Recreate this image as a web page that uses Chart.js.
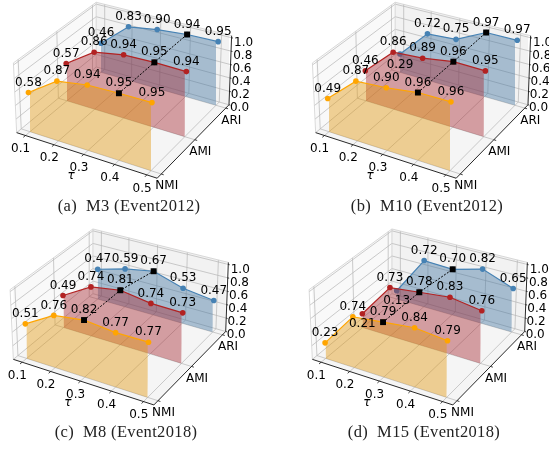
<!DOCTYPE html>
<html lang="en">
<head>
    <meta charset="UTF-8">
    <title>Clustering metrics vs tau</title>
    <script src="https://cdn.jsdelivr.net/npm/chart.js@4.4.1/dist/chart.umd.min.js"></script>
    <style>
        html, body { margin: 0; padding: 0; background: #fff; }
        #page { position: relative; width: 549px; height: 449px; overflow: hidden; }
        canvas { position: absolute; }
        .caption { position: absolute; transform: translate(-50%, -50%); white-space: pre; font-family: 'Liberation Serif', serif; font-size: 16.5px; letter-spacing: 0.35px; color: #222; }
    </style>
</head>
<body>
    <div id="page"></div>
    <script>
        // values
        const tauValues = [0.1, 0.2, 0.3, 0.4, 0.5];
        const metricNames = ['NMI', 'AMI', 'ARI'];
        const zTicks = [0, 0.2, 0.4, 0.6, 0.8, 1.0];

        const m3Nmi = [0.58, 0.87, 0.94, 0.95, 0.95];
        const m3Ami = [0.57, 0.86, 0.94, 0.95, 0.94];
        const m3Ari = [0.46, 0.83, 0.90, 0.94, 0.95];

        const m10Nmi = [0.49, 0.87, 0.90, 0.96, 0.96];
        const m10Ami = [0.46, 0.86, 0.89, 0.96, 0.95];
        const m10Ari = [0.29, 0.72, 0.75, 0.97, 0.97];

        const m8Nmi = [0.51, 0.76, 0.82, 0.77, 0.77];
        const m8Ami = [0.49, 0.74, 0.81, 0.74, 0.73];
        const m8Ari = [0.47, 0.59, 0.67, 0.53, 0.47];

        const m15Nmi = [0.23, 0.74, 0.79, 0.84, 0.79];
        const m15Ami = [0.21, 0.73, 0.78, 0.83, 0.76];
        const m15Ari = [0.13, 0.72, 0.70, 0.82, 0.65];

        // below: labels that sit under their point, as [metric, tau index]
        const panels = [
            { caption: '(a)  M3 (Event2012)', series: [m3Nmi, m3Ami, m3Ari], best: 3, below: [], left: 0, top: 0, dx: 0, dy: 0, capX: 129, capY: 206 },
            { caption: '(b)  M10 (Event2012)', series: [m10Nmi, m10Ami, m10Ari], best: 3, below: ['2,0'], left: 275, top: 0, dx: 24, dy: 0, capX: 427, capY: 206 },
            { caption: '(c)  M8 (Event2018)', series: [m8Nmi, m8Ami, m8Ari], best: 2, below: [], left: 0, top: 225, dx: -3.3, dy: 1.7, capX: 126, capY: 432 },
            { caption: '(d)  M15 (Event2018)', series: [m15Nmi, m15Ami, m15Ari], best: 2, below: ['1,0', '2,0'], left: 275, top: 225, dx: 20.7, dy: 1.7, capX: 424, capY: 432 }
        ];

        // camera: where the data box lands in a panel (tau .1/.5 x NMI/ARI), floor and z=1 plane
        const floorCorners = [[30, 131.7], [151, 170.7], [101, 72.3], [216, 105.3]];
        const roofCorners = [[27.3, 64], [152, 99], [101, 9], [218.3, 38.3]];
        const sMin = -0.0725, sMax = 1.085, wMin = -0.064, wMax = 1.05, zMax = 1.03;

        const metricColors = ['#ffa500', '#b22222', '#4682b4'];
        const wallColors = ['rgba(226,150,10,0.42)', 'rgba(165,35,45,0.42)', 'rgba(62,115,160,0.42)'];
        const labelFont = "12px 'DejaVu Sans'";

        // foreshortening along the two floor directions
        const warp = (t, r) => t / (t + (1 - t) * r);
        const tauPos = tau => warp((tau - 0.1) / 0.4, 1.083);
        const metricPos = i => warp(i / 2, 0.923);

        function bilinear(c, s, w, k) {
            return (1 - s) * (1 - w) * c[0][k] + s * (1 - w) * c[1][k] + (1 - s) * w * c[2][k] + s * w * c[3][k];
        }

        function project(panel, s, w, z) {
            const x0 = bilinear(floorCorners, s, w, 0), y0 = bilinear(floorCorners, s, w, 1);
            const x1 = bilinear(roofCorners, s, w, 0), y1 = bilinear(roofCorners, s, w, 1);
            return { x: x0 + (x1 - x0) * z + panel.dx, y: y0 + (y1 - y0) * z + panel.dy };
        }

        function buildChart(panel) {
            const P = (s, w, z) => project(panel, s, w, z);
            const paint = [];   // back to front, reversed at the end

            const line = (pts, color, width, extra) => paint.push(Object.assign({
                data: pts, showLine: true, borderColor: color, borderWidth: width, pointRadius: 0, tension: 0, clip: false
            }, extra));
            // fill between two polylines, filler needs the lower edge as its own dataset
            const band = (upper, lower, color, extra) => {
                line(lower, 'rgba(0,0,0,0)', 0);
                line(upper, 'rgba(0,0,0,0)', 0, Object.assign({ fill: '+1', backgroundColor: color }, extra));
            };

            // panes
            band([P(sMin, wMin, zMax), P(sMin, wMax, zMax)], [P(sMin, wMin, 0), P(sMin, wMax, 0)], '#f9f9f9');
            band([P(sMin, wMax, zMax), P(sMax, wMax, zMax)], [P(sMin, wMax, 0), P(sMax, wMax, 0)], '#f2f2f2');
            band([P(sMin, wMin, 0), P(sMin, wMax, 0), P(sMax, wMax, 0)], [P(sMin, wMin, 0), P(sMax, wMin, 0), P(sMax, wMax, 0)], '#f5f5f5');

            // grid
            const gridColor = '#b4b4b4';
            tauValues.forEach(tau => {
                const s = tauPos(tau);
                line([P(s, wMin, 0), P(s, wMax, 0), P(s, wMax, zMax)], gridColor, 0.7);
            });
            metricNames.forEach((name, i) => {
                const w = metricPos(i);
                line([P(sMax, w, 0), P(sMin, w, 0), P(sMin, w, zMax)], gridColor, 0.7);
            });
            zTicks.forEach(z => {
                line([P(sMin, wMin, z), P(sMin, wMax, z), P(sMax, wMax, z)], gridColor, 0.7);
            });
            // pane edges
            line([P(sMin, wMin, 0), P(sMin, wMin, zMax), P(sMin, wMax, zMax), P(sMax, wMax, zMax)], '#cfcfcf', 0.8);
            line([P(sMin, wMax, 0), P(sMin, wMax, zMax)], '#cfcfcf', 0.8);

            // axes
            const axisColor = '#111';
            line([P(sMin, wMin, 0), P(sMax, wMin, 0)], axisColor, 0.9);
            line([P(sMax, wMin, 0), P(sMax, wMax, 0)], axisColor, 0.9);
            line([P(sMax, wMax, 0), P(sMax, wMax, zMax)], axisColor, 0.9);
            tauValues.forEach(tau => {
                const s = tauPos(tau);
                line([P(s, wMin, 0), P(s, wMin - 0.03, 0)], axisColor, 0.8);
            });
            metricNames.forEach((name, i) => {
                const w = metricPos(i);
                line([P(sMax, w, 0), P(sMax + 0.02, w, 0)], axisColor, 0.8);
            });
            zTicks.forEach(z => {
                line([P(sMax, wMax, z), P(sMax + 0.012, wMax, z)], axisColor, 0.8);
            });

            // walls, ARI at the back
            [2, 1, 0].forEach(i => {
                const w = metricPos(i);
                const values = panel.series[i];
                const top = values.map((v, k) => P(tauPos(tauValues[k]), w, v));
                const bottom = values.map((v, k) => P(tauPos(tauValues[k]), w, 0));
                band(top, bottom, wallColors[i]);
                line(top, metricColors[i], 1.2, { pointRadius: 2.8, pointBackgroundColor: metricColors[i], pointBorderWidth: 0 });
            });

            // best tau, dashed link across the metrics
            const bestTau = tauValues[panel.best];
            const bestPts = metricNames.map((name, i) => P(tauPos(bestTau), metricPos(i), panel.series[i][panel.best]));
            line(bestPts, '#000', 1, { borderDash: [2, 1.5], pointStyle: 'rect', pointRadius: 4.2, pointBackgroundColor: '#000', pointBorderWidth: 0 });

            const textPlugin = {
                id: 'panelText',
                afterDatasetsDraw(chart) {
                    const ctx = chart.ctx, xs = chart.scales.x, ys = chart.scales.y;
                    const put = (text, pt, ox, oy) => ctx.fillText(text, xs.getPixelForValue(pt.x) + ox, ys.getPixelForValue(pt.y) + oy);
                    ctx.save();
                    ctx.fillStyle = '#000';
                    ctx.textAlign = 'center';
                    ctx.textBaseline = 'middle';
                    ctx.font = labelFont;
                    tauValues.forEach(tau => put(tau.toFixed(1), P(tauPos(tau), wMin, 0), -4.8, 13.6));
                    metricNames.forEach((name, i) => put(name, P(sMax, metricPos(i), 0), 5.5, 12.3));
                    zTicks.forEach(z => put(z.toFixed(1), P(sMax, wMax, z), 10.5 + z * 1.5, 3.3 + z * 2));
                    [2, 1, 0].forEach(i => {
                        panel.series[i].forEach((v, k) => {
                            const oy = panel.below.includes(i + ',' + k) ? 10.5 : -10;
                            put(v.toFixed(2), P(tauPos(tauValues[k]), metricPos(i), v), 0, oy);
                        });
                    });
                    // axis title
                    const t = P(tauPos(0.3), wMin, 0);
                    ctx.font = "italic 12px 'DejaVu Sans'";
                    put('τ', t, -12.5, 21.5);
                    ctx.restore();
                }
            };

            const canvas = document.createElement('canvas');
            canvas.width = 275;
            canvas.height = 225;
            canvas.style.left = panel.left + 'px';
            canvas.style.top = panel.top + 'px';
            document.getElementById('page').appendChild(canvas);

            new Chart(canvas.getContext('2d'), {
                type: 'scatter',
                data: { datasets: paint.reverse() },
                options: {
                    responsive: false,
                    animation: false,
                    layout: { padding: 0, autoPadding: false },
                    plugins: { legend: { display: false }, tooltip: { enabled: false } },
                    scales: {
                        x: { type: 'linear', display: false, min: 0, max: 275 },
                        y: { type: 'linear', display: false, min: 0, max: 225, reverse: true }
                    }
                },
                plugins: [textPlugin]
            });

            const cap = document.createElement('div');
            cap.className = 'caption';
            cap.textContent = panel.caption;
            cap.style.left = panel.capX + 'px';
            cap.style.top = panel.capY + 'px';
            document.getElementById('page').appendChild(cap);
        }

        panels.forEach(buildChart);
    </script>
</body>
</html>
